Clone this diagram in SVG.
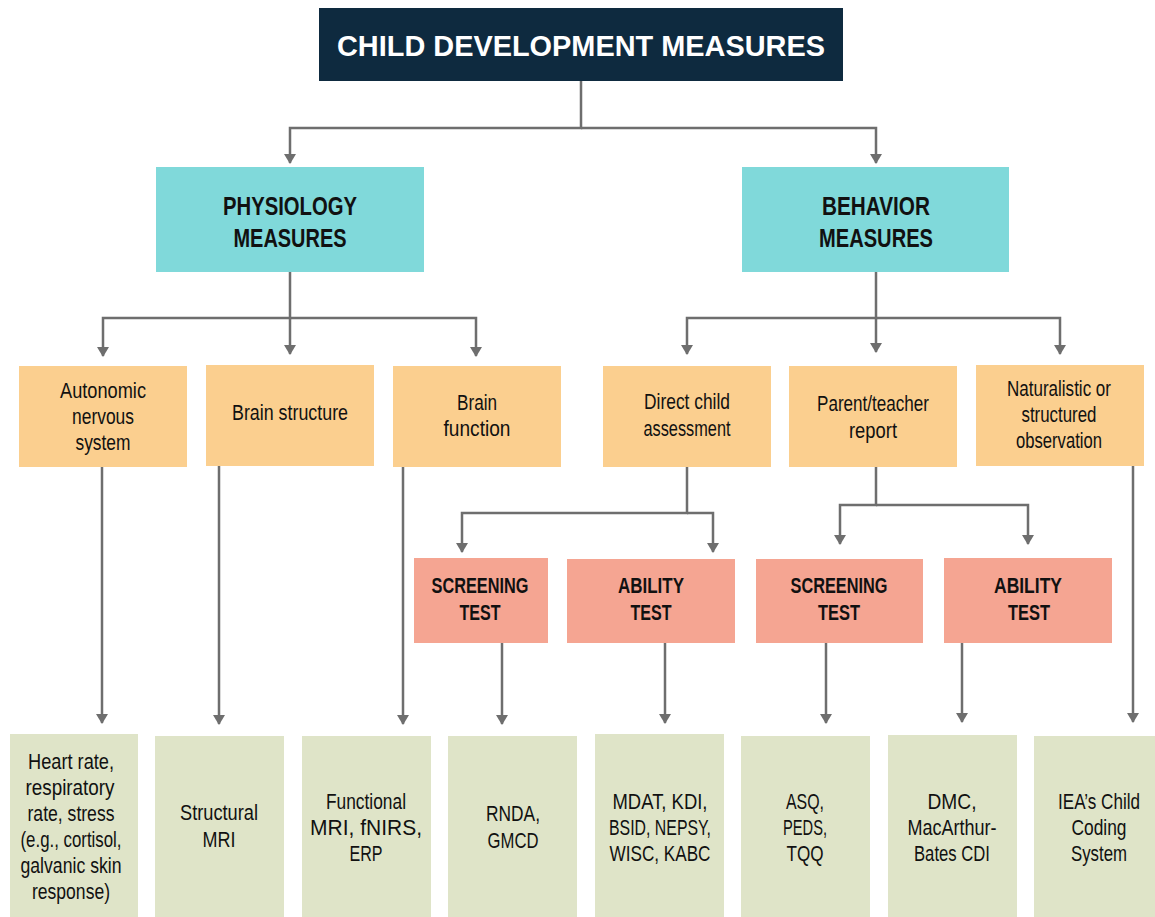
<svg xmlns="http://www.w3.org/2000/svg" width="1155" height="917" viewBox="0 0 1155 917">
<defs>
<marker id="arr" viewBox="0 -6 10 12" markerWidth="12" markerHeight="12" refX="9" refY="0" orient="auto" markerUnits="userSpaceOnUse"><path d="M0,-6 L10,0 L0,6 z" fill="#6e6e6e"/></marker>
<style>
.t{font-family:"Liberation Sans",Arial,sans-serif;text-anchor:middle;fill:#111;}
.r{font-size:22px;}
.b{font-weight:bold;}
.top{fill:#0e2a3f;}
.cy{fill:#80d9da;}
.or{fill:#fbcf8f;}
.sa{fill:#f5a592;}
.gr{fill:#dfe4c8;}
.c path{fill:none;stroke:#6e6e6e;stroke-width:2.5;}
.a{marker-end:url(#arr);}
</style>
</defs>
<rect width="1155" height="917" fill="#fff"/>
<g class="c" id="connectors">
<path class="a" d="M581,81 V128 H290 V163"/>
<path class="a" d="M581,128 H876 V163"/>
<path class="a" d="M290,272 V318 H103 V356"/>
<path class="a" d="M290,318 H476 V356"/>
<path class="a" d="M290,318 V354"/>
<path class="a" d="M876,272 V318 H687 V354"/>
<path class="a" d="M876,318 H1060 V354"/>
<path class="a" d="M876,318 V352"/>
<path class="a" d="M687,467 V513 H462 V552"/>
<path class="a" d="M687,513 H713 V552"/>
<path class="a" d="M876,467 V505 H840 V544"/>
<path class="a" d="M876,505 H1028 V544"/>
<path class="a" d="M102,467 V723"/>
<path class="a" d="M219,466 V724"/>
<path class="a" d="M403,467 V724"/>
<path class="a" d="M502,643 V724"/>
<path class="a" d="M665,643 V723"/>
<path class="a" d="M826,643 V723"/>
<path class="a" d="M962,643 V722"/>
<path class="a" d="M1133,466 V722"/>
</g>
<g id="title">
<rect class="top" x="319" y="8" width="524" height="73"/>
<text class="t b" x="581" y="56" font-size="29" style="fill:#fff" textLength="488" lengthAdjust="spacingAndGlyphs">CHILD DEVELOPMENT MEASURES</text>
</g>
<g id="physiology">
<rect class="cy" x="156" y="167" width="268" height="105"/>
<text class="t b" font-size="26" x="290" y="215" textLength="134" lengthAdjust="spacingAndGlyphs">PHYSIOLOGY</text>
<text class="t b" font-size="26" x="290" y="247" textLength="113" lengthAdjust="spacingAndGlyphs">MEASURES</text>
</g>
<g id="behavior">
<rect class="cy" x="742" y="167" width="267" height="105"/>
<text class="t b" font-size="26" x="876" y="215" textLength="108" lengthAdjust="spacingAndGlyphs">BEHAVIOR</text>
<text class="t b" font-size="26" x="876" y="247" textLength="114" lengthAdjust="spacingAndGlyphs">MEASURES</text>
</g>
<g id="autonomic">
<rect class="or" x="19" y="366" width="168" height="101"/>
<text class="t r" x="103" y="398" textLength="86" lengthAdjust="spacingAndGlyphs">Autonomic</text>
<text class="t r" x="103" y="424" textLength="62" lengthAdjust="spacingAndGlyphs">nervous</text>
<text class="t r" x="103" y="450" textLength="55" lengthAdjust="spacingAndGlyphs">system</text>
</g>
<g id="brain-structure">
<rect class="or" x="206" y="365" width="168" height="101"/>
<text class="t r" x="290" y="420" textLength="116" lengthAdjust="spacingAndGlyphs">Brain structure</text>
</g>
<g id="brain-function">
<rect class="or" x="393" y="366" width="168" height="101"/>
<text class="t r" x="477" y="410" textLength="40" lengthAdjust="spacingAndGlyphs">Brain</text>
<text class="t r" x="477" y="436" textLength="67" lengthAdjust="spacingAndGlyphs">function</text>
</g>
<g id="direct-child">
<rect class="or" x="603" y="366" width="168" height="101"/>
<text class="t r" x="687" y="409" textLength="86" lengthAdjust="spacingAndGlyphs">Direct child</text>
<text class="t r" x="687" y="436" textLength="87" lengthAdjust="spacingAndGlyphs">assessment</text>
</g>
<g id="parent-teacher">
<rect class="or" x="789" y="366" width="168" height="101"/>
<text class="t r" x="873" y="411" textLength="112" lengthAdjust="spacingAndGlyphs">Parent/teacher</text>
<text class="t r" x="873" y="438" textLength="48" lengthAdjust="spacingAndGlyphs">report</text>
</g>
<g id="naturalistic">
<rect class="or" x="976" y="365" width="168" height="101"/>
<text class="t r" x="1059" y="396" textLength="104" lengthAdjust="spacingAndGlyphs">Naturalistic or</text>
<text class="t r" x="1059" y="422" textLength="75" lengthAdjust="spacingAndGlyphs">structured</text>
<text class="t r" x="1059" y="448" textLength="86" lengthAdjust="spacingAndGlyphs">observation</text>
</g>
<g id="screening-1">
<rect class="sa" x="414" y="558" width="134" height="85"/>
<text class="t b" font-size="22" x="480" y="593" textLength="97" lengthAdjust="spacingAndGlyphs">SCREENING</text>
<text class="t b" font-size="22" x="480" y="620" textLength="41" lengthAdjust="spacingAndGlyphs">TEST</text>
</g>
<g id="ability-1">
<rect class="sa" x="567" y="559" width="168" height="84"/>
<text class="t b" font-size="22" x="651" y="593" textLength="66" lengthAdjust="spacingAndGlyphs">ABILITY</text>
<text class="t b" font-size="22" x="651" y="620" textLength="41" lengthAdjust="spacingAndGlyphs">TEST</text>
</g>
<g id="screening-2">
<rect class="sa" x="756" y="559" width="167" height="84"/>
<text class="t b" font-size="22" x="839" y="593" textLength="97" lengthAdjust="spacingAndGlyphs">SCREENING</text>
<text class="t b" font-size="22" x="839" y="620" textLength="42" lengthAdjust="spacingAndGlyphs">TEST</text>
</g>
<g id="ability-2">
<rect class="sa" x="944" y="558" width="168" height="85"/>
<text class="t b" font-size="22" x="1028" y="593" textLength="68" lengthAdjust="spacingAndGlyphs">ABILITY</text>
<text class="t b" font-size="22" x="1029" y="620" textLength="42" lengthAdjust="spacingAndGlyphs">TEST</text>
</g>
<g id="heart-rate">
<rect class="gr" x="10" y="734" width="128" height="183"/>
<text class="t r" x="71" y="769" textLength="86" lengthAdjust="spacingAndGlyphs">Heart rate,</text>
<text class="t r" x="70" y="795" textLength="89" lengthAdjust="spacingAndGlyphs">respiratory</text>
<text class="t r" x="71" y="821" textLength="87" lengthAdjust="spacingAndGlyphs">rate, stress</text>
<text class="t r" x="71" y="847" textLength="101" lengthAdjust="spacingAndGlyphs">(e.g., cortisol,</text>
<text class="t r" x="71" y="873" textLength="101" lengthAdjust="spacingAndGlyphs">galvanic skin</text>
<text class="t r" x="71" y="899" textLength="78" lengthAdjust="spacingAndGlyphs">response)</text>
</g>
<g id="structural-mri">
<rect class="gr" x="155" y="736" width="129" height="181"/>
<text class="t r" x="219" y="820" textLength="78" lengthAdjust="spacingAndGlyphs">Structural</text>
<text class="t r" x="219" y="847" textLength="33" lengthAdjust="spacingAndGlyphs">MRI</text>
</g>
<g id="functional-mri">
<rect class="gr" x="302" y="736" width="129" height="181"/>
<text class="t r" x="366" y="809" textLength="80" lengthAdjust="spacingAndGlyphs">Functional</text>
<text class="t r" x="366" y="835" textLength="112" lengthAdjust="spacingAndGlyphs">MRI, fNIRS,</text>
<text class="t r" x="366" y="861" textLength="33" lengthAdjust="spacingAndGlyphs">ERP</text>
</g>
<g id="rnda">
<rect class="gr" x="448" y="736" width="129" height="181"/>
<text class="t r" x="513" y="821" textLength="54" lengthAdjust="spacingAndGlyphs">RNDA,</text>
<text class="t r" x="513" y="848" textLength="51" lengthAdjust="spacingAndGlyphs">GMCD</text>
</g>
<g id="mdat">
<rect class="gr" x="595" y="734" width="129" height="183"/>
<text class="t r" x="660" y="809" textLength="95" lengthAdjust="spacingAndGlyphs">MDAT, KDI,</text>
<text class="t r" x="660" y="835" textLength="102" lengthAdjust="spacingAndGlyphs">BSID, NEPSY,</text>
<text class="t r" x="660" y="861" textLength="101" lengthAdjust="spacingAndGlyphs">WISC, KABC</text>
</g>
<g id="asq">
<rect class="gr" x="741" y="736" width="129" height="181"/>
<text class="t r" x="805" y="809" textLength="38" lengthAdjust="spacingAndGlyphs">ASQ,</text>
<text class="t r" x="805" y="835" textLength="44" lengthAdjust="spacingAndGlyphs">PEDS,</text>
<text class="t r" x="805" y="861" textLength="37" lengthAdjust="spacingAndGlyphs">TQQ</text>
</g>
<g id="dmc">
<rect class="gr" x="888" y="735" width="129" height="182"/>
<text class="t r" x="952" y="809" textLength="49" lengthAdjust="spacingAndGlyphs">DMC,</text>
<text class="t r" x="952" y="835" textLength="89" lengthAdjust="spacingAndGlyphs">MacArthur-</text>
<text class="t r" x="952" y="861" textLength="76" lengthAdjust="spacingAndGlyphs">Bates CDI</text>
</g>
<g id="iea">
<rect class="gr" x="1034" y="736" width="121" height="181"/>
<text class="t r" x="1099" y="809" textLength="82" lengthAdjust="spacingAndGlyphs">IEA’s Child</text>
<text class="t r" x="1099" y="835" textLength="55" lengthAdjust="spacingAndGlyphs">Coding</text>
<text class="t r" x="1099" y="861" textLength="56" lengthAdjust="spacingAndGlyphs">System</text>
</g>
</svg>
